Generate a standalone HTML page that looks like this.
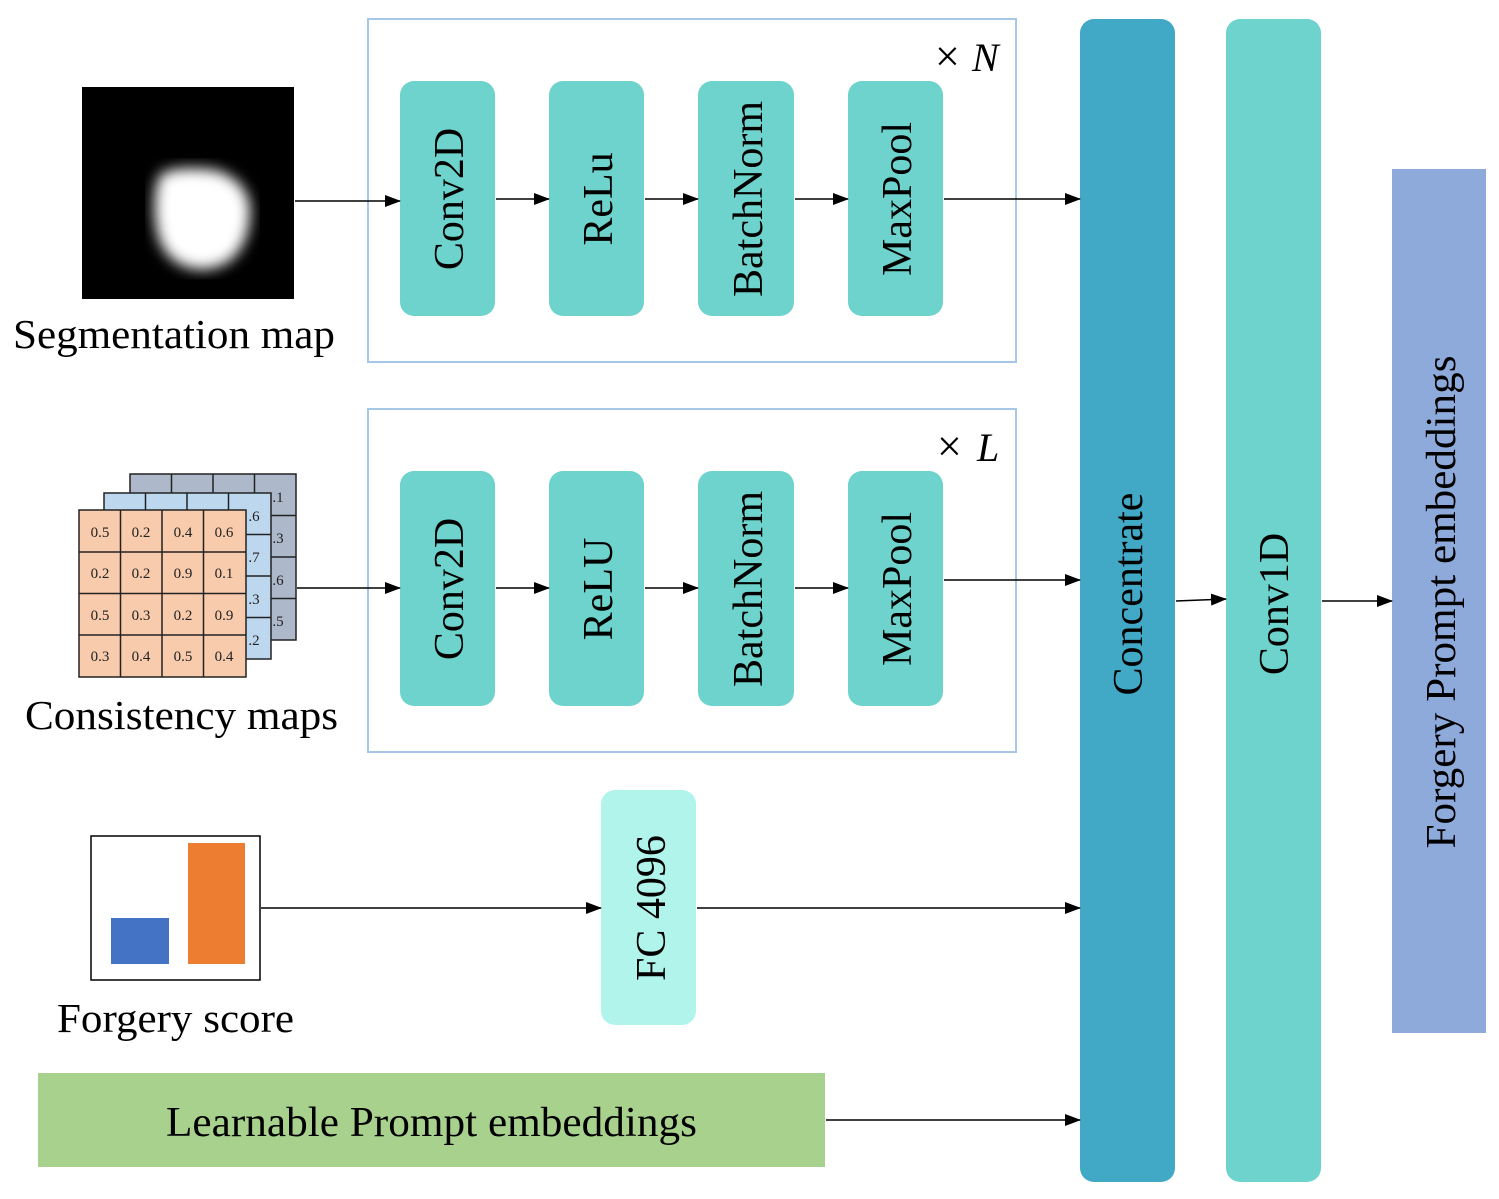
<!DOCTYPE html>
<html><head><meta charset="utf-8"><style>body{margin:0;background:#fff}svg{display:block}</style></head><body>
<svg width="1499" height="1199" viewBox="0 0 1499 1199" xmlns="http://www.w3.org/2000/svg" font-family="Liberation Serif, serif">
<defs>
<marker id="a" markerWidth="16" markerHeight="12" refX="15" refY="6" orient="auto" markerUnits="userSpaceOnUse"><path d="M0,0 L16,6 L0,12 z" fill="#000"/></marker>
<filter id="bl"><feGaussianBlur stdDeviation="7"/></filter>
<clipPath id="segc"><rect x="82" y="87" width="212" height="212"/></clipPath>
</defs>
<rect x="82" y="87" width="212" height="212" fill="#000"/>
<g clip-path="url(#segc)"><path d="M160,175 Q175,165 215,170 Q248,180 250,210 Q250,245 228,262 Q205,275 182,265 Q160,255 156,225 Q152,195 160,175 z" fill="#fff" filter="url(#bl)"/></g>
<text x="13" y="348" font-size="41" textLength="322" lengthAdjust="spacingAndGlyphs">Segmentation map</text>
<rect x="368" y="19" width="648" height="343" fill="none" stroke="#a7c7e7" stroke-width="2"/>
<rect x="368" y="409" width="648" height="343" fill="none" stroke="#a7c7e7" stroke-width="2"/>
<text x="935" y="71" font-size="44">×</text><text x="972" y="71" font-size="40" font-style="italic">N</text>
<text x="937" y="461" font-size="44">×</text><text x="977" y="461" font-size="40" font-style="italic">L</text>
<g fill="#6dd3cc">
<rect x="400" y="81" width="95" height="235" rx="14"/><rect x="549" y="81" width="95" height="235" rx="14"/><rect x="698" y="81" width="96" height="235" rx="14"/><rect x="848" y="81" width="95" height="235" rx="14"/>
<rect x="400" y="471" width="95" height="235" rx="14"/><rect x="549" y="471" width="95" height="235" rx="14"/><rect x="698" y="471" width="96" height="235" rx="14"/><rect x="848" y="471" width="95" height="235" rx="14"/>
</g>
<g font-size="42" text-anchor="middle">
<text transform="translate(463,199) rotate(-90)">Conv2D</text>
<text transform="translate(612,199) rotate(-90)">ReLu</text>
<text transform="translate(762,199) rotate(-90)">BatchNorm</text>
<text transform="translate(911,199) rotate(-90)">MaxPool</text>
<text transform="translate(463,589) rotate(-90)">Conv2D</text>
<text transform="translate(612,589) rotate(-90)">ReLU</text>
<text transform="translate(762,589) rotate(-90)">BatchNorm</text>
<text transform="translate(911,589) rotate(-90)">MaxPool</text>
</g>
<rect x="1080" y="19" width="95" height="1163" rx="14" fill="#41a8c6"/>
<rect x="1226" y="19" width="95" height="1163" rx="14" fill="#6dd3cc"/>
<rect x="1392" y="169" width="94" height="864" fill="#8eaadb"/>
<g font-size="42" text-anchor="middle">
<text transform="translate(1142,594) rotate(-90)">Concentrate</text>
<text transform="translate(1288,604) rotate(-90)">Conv1D</text>
<text transform="translate(1455,602) rotate(-90)" textLength="493" lengthAdjust="spacingAndGlyphs">Forgery Prompt embeddings</text>
</g>
<g stroke="#222" stroke-width="1.5" font-size="15" text-anchor="middle">
<rect x="130" y="474" width="166" height="166" fill="#adb9ca"/>
<path d="M171.5,474V640M213,474V640M254.5,474V640M130,515.5H296M130,557H296M130,598.5H296" fill="none"/>
<g stroke="none" fill="#222"><text x="278" y="502">.1</text><text x="278" y="543">.3</text><text x="278" y="585">.6</text><text x="278" y="626">.5</text></g>
<rect x="104" y="493" width="167" height="166" fill="#bdd7ee"/>
<path d="M145.5,493V659M187,493V659M228.5,493V659M104,534.5H271M104,576H271M104,617.5H271" fill="none"/>
<g stroke="none" fill="#222"><text x="254" y="521">.6</text><text x="254" y="562">.7</text><text x="254" y="604">.3</text><text x="254" y="645">.2</text></g>
<rect x="79" y="510" width="167" height="167" fill="#f8cbad"/>
<path d="M120.5,510V677M162,510V677M203.5,510V677M79,552H246M79,593.5H246M79,635H246" fill="none"/>
<g stroke="none" fill="#222">
<text x="100" y="537">0.5</text><text x="141" y="537">0.2</text><text x="183" y="537">0.4</text><text x="224" y="537">0.6</text>
<text x="100" y="578">0.2</text><text x="141" y="578">0.2</text><text x="183" y="578">0.9</text><text x="224" y="578">0.1</text>
<text x="100" y="620">0.5</text><text x="141" y="620">0.3</text><text x="183" y="620">0.2</text><text x="224" y="620">0.9</text>
<text x="100" y="661">0.3</text><text x="141" y="661">0.4</text><text x="183" y="661">0.5</text><text x="224" y="661">0.4</text>
</g>
</g>
<text x="25" y="729" font-size="41" textLength="313" lengthAdjust="spacingAndGlyphs">Consistency maps</text>
<rect x="91" y="836" width="169" height="144" fill="#fff" stroke="#000" stroke-width="1.5"/>
<rect x="111" y="918" width="58" height="46" fill="#4472c4"/>
<rect x="188" y="843" width="57" height="121" fill="#ed7d31"/>
<text x="57" y="1032" font-size="41" textLength="237" lengthAdjust="spacingAndGlyphs">Forgery score</text>
<rect x="601" y="790" width="95" height="235" rx="14" fill="#b1f4ec"/>
<text transform="translate(665,908) rotate(-90)" font-size="42" text-anchor="middle">FC 4096</text>
<rect x="38" y="1073" width="787" height="94" fill="#a9d18e"/>
<text x="166" y="1136" font-size="42" textLength="531" lengthAdjust="spacingAndGlyphs">Learnable Prompt embeddings</text>
<g stroke="#000" stroke-width="1.5" fill="none" marker-end="url(#a)">
<path d="M295,201H400"/><path d="M496,199H549"/><path d="M645,199H698"/><path d="M795,199H848"/><path d="M944,199H1080"/>
<path d="M297,588H400"/><path d="M496,588H549"/><path d="M645,588H698"/><path d="M795,588H848"/><path d="M944,580H1080"/>
<path d="M261,908H601"/><path d="M697,908H1080"/><path d="M826,1120H1080"/>
<path d="M1176,601L1226,599"/><path d="M1322,601H1392"/>
</g>
</svg>
</body></html>
